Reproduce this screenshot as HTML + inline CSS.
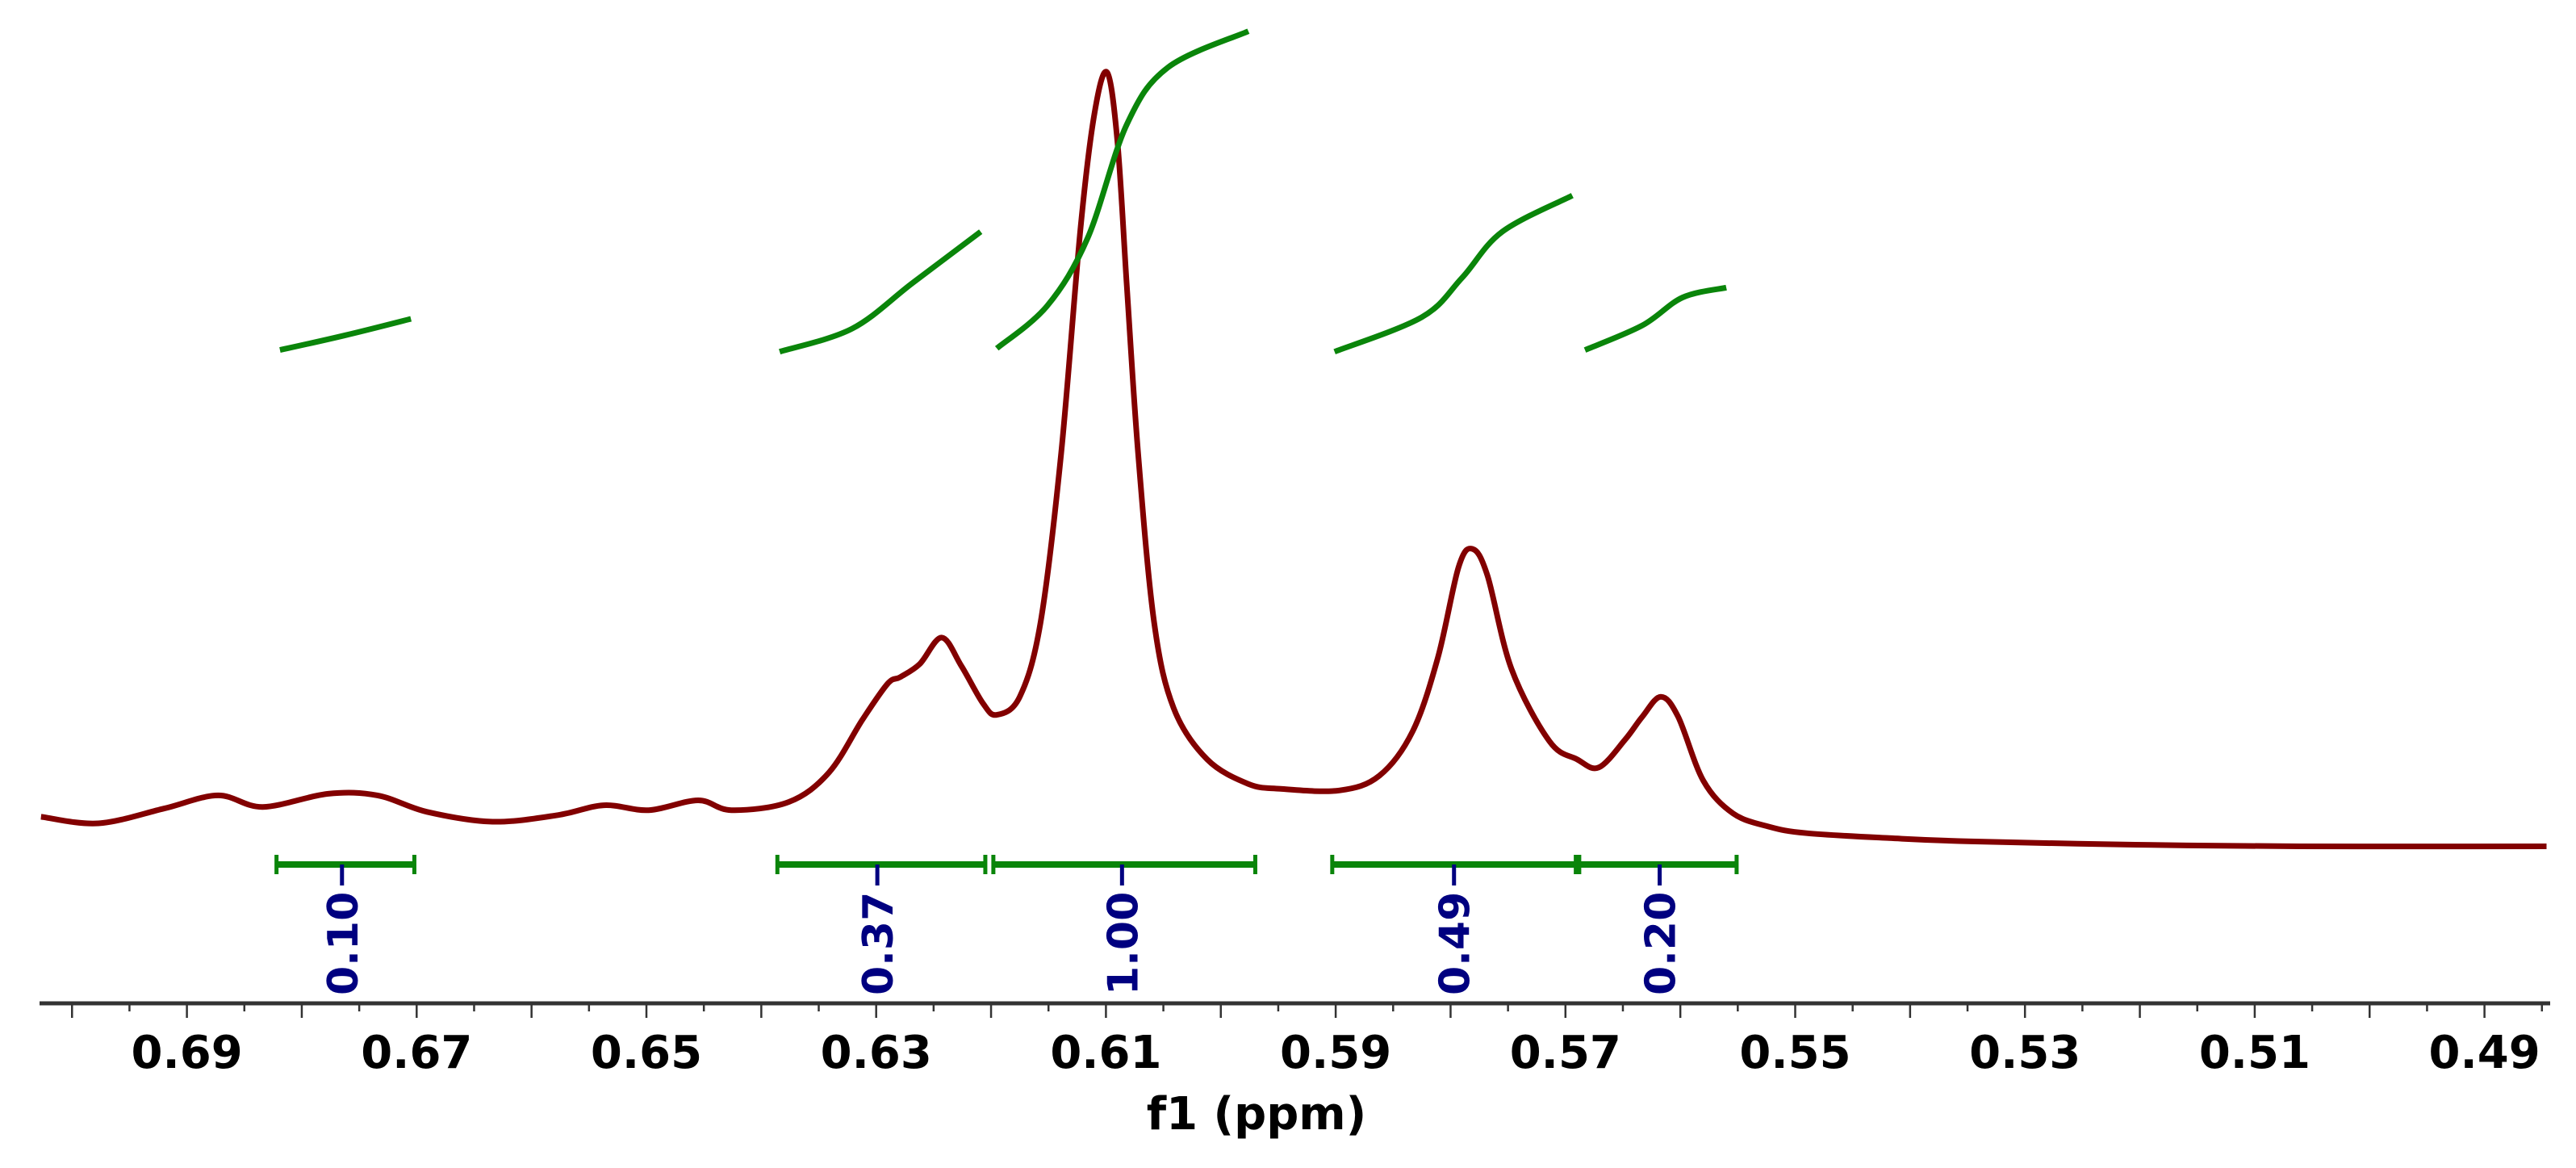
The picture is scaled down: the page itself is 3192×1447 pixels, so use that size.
<!DOCTYPE html>
<html><head><meta charset="utf-8"><title>NMR spectrum f1 (ppm)</title>
<style>html,body{margin:0;padding:0;background:#fff;}svg{display:block;}</style></head>
<body>
<svg id="chart" width="3192" height="1447" viewBox="0 0 3192 1447" xmlns="http://www.w3.org/2000/svg">
<g id="spec"></g>
<g id="integ"></g>
<g id="axis"></g>
<text x="1557" y="1399" text-anchor="middle" font-family="DejaVu Sans, Liberation Sans, sans-serif" font-weight="bold" font-size="56" fill="#000">f1 (ppm)</text>
</svg>
<script>
// spectrum samples (ppm, intensity in arbitrary units)
const specPpm = [0.7027,0.6977,0.6920,0.6873,0.6834,0.6777,0.6734,0.6691,0.6634,0.6577,0.6537,0.6498,0.6455,0.6426,0.6376,0.6341,0.6312,0.6290,0.6279,0.6262,0.6243,0.6226,0.6207,0.6195,0.6175,0.6157,0.6139,0.6122,0.6110,0.6099,0.6090,0.6082,0.6072,0.6058,0.6041,0.6012,0.5976,0.5948,0.5897,0.5862,0.5833,0.5811,0.5793,0.5781,0.5768,0.5747,0.5714,0.5690,0.5671,0.5648,0.5633,0.5617,0.5602,0.5580,0.5554,0.5523,0.5490,0.5418,0.5347,0.5204,0.5061,0.4846];
const specInt = [23,19,28,36,29,37,36,26,20,24,30,27,33,27,32,50,82,104,108,116,132,115,92,85,96,141,244,382,451,476,434,348,244,141,89,58,43,40,39,48,75,120,175,186,170,113,69,58,53,70,84,96,84,45,25,17,13,10,8,6,5,5];
// integral regions
const integStart = [0.6822,0.6386,0.6198,0.5903,0.5688];
const integEnd   = [0.6702,0.6205,0.5970,0.5691,0.5551];
const integLabelPpm = [0.6765,0.6299,0.6086,0.5797,0.5618];
const integValues = ["0.10","0.37","1.00","0.49","0.20"];
// integral curves (ppm, height in intensity units)
const curvePpm = [[0.6819,0.6762,0.6705],[0.6384,0.6321,0.6268,0.6209],[0.6195,0.6151,0.6116,0.6082,0.6046,0.5976],[0.5901,0.5825,0.5790,0.5755,0.5694],[0.5683,0.5633,0.5598,0.5560]];
const curveVal = [[307,316,326],[306,320,348,379],[308,334,375,444,479,501],[306,327,351,379,401],[307,322,339,345]];
// axis ticks
const tickLabels = ["0.69","0.67","0.65","0.63","0.61","0.59","0.57","0.55","0.53","0.51","0.49"];

const NS="http://www.w3.org/2000/svg";
function xs(p){return 231.6+(0.69-p)*14235;}
function ys(v){return 1058.7-v*2.036;}
function mk(tag,attrs,parent){const e=document.createElementNS(NS,tag);for(const k in attrs)e.setAttribute(k,attrs[k]);parent.appendChild(e);return e;}
function smooth(pts){
  let d="M"+pts[0][0].toFixed(1)+","+pts[0][1].toFixed(1);
  for(let i=0;i<pts.length-1;i++){
    const p0=pts[Math.max(0,i-1)],p1=pts[i],p2=pts[i+1],p3=pts[Math.min(pts.length-1,i+2)];
    const c1x=p1[0]+(p2[0]-p0[0])/6,c1y=p1[1]+(p2[1]-p0[1])/6;
    const c2x=p2[0]-(p3[0]-p1[0])/6,c2y=p2[1]-(p3[1]-p1[1])/6;
    d+=" C"+c1x.toFixed(1)+","+c1y.toFixed(1)+" "+c2x.toFixed(1)+","+c2y.toFixed(1)+" "+p2[0].toFixed(1)+","+p2[1].toFixed(1);
  }
  return d;
}
const spec=document.getElementById('spec');
const sp=mk('path',{d:smooth(specPpm.map((p,i)=>[xs(p),ys(specInt[i])])),fill:'none',stroke:'#820000','stroke-width':7,'stroke-linejoin':'round'},spec);



const integ=document.getElementById('integ');
curvePpm.forEach((arr,k)=>{
  const c=mk('path',{d:smooth(arr.map((p,i)=>[xs(p),ys(curveVal[k][i])])),fill:'none',stroke:'#0a850a','stroke-width':7,'stroke-linecap':'butt'},integ);
  
  
});
const barY=1071;
integStart.forEach((s,k)=>{
  const x1=xs(s),x2=xs(integEnd[k]);
  const b=mk('line',{x1:x1,x2:x2,y1:barY,y2:barY,stroke:'#0a850a','stroke-width':8},integ);
  
  
  [x1,x2].forEach(xx=>{
    const e=mk('line',{x1:xx,x2:xx,y1:barY-12,y2:barY+12,stroke:'#0a850a','stroke-width':5},integ);
    
    
  });
  const lx=xs(integLabelPpm[k]);
  const t=mk('line',{x1:lx,x2:lx,y1:barY,y2:barY+26,stroke:'#000080','stroke-width':5},integ);
  
  
  const tx=mk('text',{x:0,y:0,transform:'translate('+(lx+19)+',1233) rotate(-90)','font-family':'DejaVu Sans, Liberation Sans, sans-serif','font-weight':'bold','font-size':52,fill:'#000080'},integ);
  tx.textContent=integValues[k];
  
  
});

const axis=document.getElementById('axis');
const al=mk('line',{x1:49,x2:3160,y1:1243,y2:1243,stroke:'#333','stroke-width':5},axis);


for(let i=0;i<=43;i++){
  const p=0.70-i*0.005;
  const x=xs(p);
  if(x>3160)break;
  const long=(i%2===0);
  const tk=mk('line',{x1:x,x2:x,y1:1243,y2:1243+(long?18:10),stroke:'#333','stroke-width':2.5},axis);
  
  
}
tickLabels.forEach(l=>{
  const t=mk('text',{x:xs(parseFloat(l)),y:1323,'text-anchor':'middle','font-family':'DejaVu Sans, Liberation Sans, sans-serif','font-weight':'bold','font-size':56,fill:'#000'},axis);
  t.textContent=l;
  
  
});
</script>
</body></html>
